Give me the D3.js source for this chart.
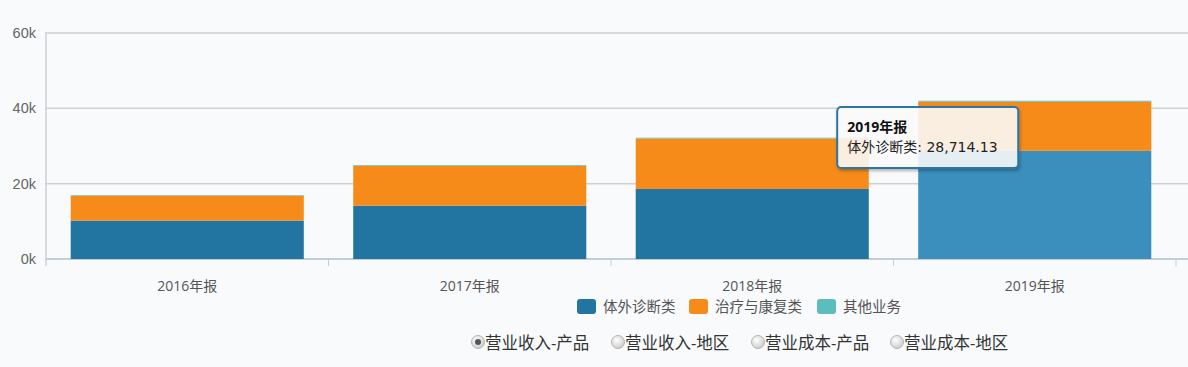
<!DOCTYPE html>
<html>
<head>
<meta charset="utf-8">
<script src="https://cdn.jsdelivr.net/npm/d3@7"></script>
<style>
  html, body { margin: 0; padding: 0; background: #f8fafc; }
  svg { display: block; font-family: "Open Sans", "Noto Sans CJK SC", sans-serif; }
</style>
</head>
<body>
<svg id="chart"></svg>
<script>
const width = 1188;
const height = 367;

// data
const categories = ["2016年报", "2017年报", "2018年报", "2019年报"];
const seriesNames = ["体外诊断类", "治疗与康复类", "其他业务"];
const ivd = [10200, 14150, 18600, 28714.13];
const therapy = [6600, 10550, 13400, 13050];
const other = [150, 200, 200, 250];
const yTicks = [0, 20000, 40000, 60000];
const radioLabels = ["营业收入-产品", "营业收入-地区", "营业成本-产品", "营业成本-地区"];

const colors = ["#2275a1", "#f68b1a", "#5cbdbd"];
const hoverBlue = "#3b8fbd";

const svg = d3.select("#chart").attr("width", width).attr("height", height);

const x = d3.scaleBand()
    .domain(categories)
    .range([46, 1176])
    .paddingInner(0.175)
    .paddingOuter(0.0875);

const y = d3.scaleLinear()
    .domain([0, 60000])
    .range([259, 33]);

// gridlines
svg.append("g")
    .selectAll("line")
    .data(yTicks)
    .enter()
    .append("line")
    .attr("x1", 45)
    .attr("x2", width)
    .attr("y1", d => y(d))
    .attr("y2", d => y(d))
    .attr("stroke", d => d === 0 ? "#c3ccd9" : "#cdd1d7")
    .attr("stroke-width", d => d === 0 ? 2 : 1.5);

// y axis line
svg.append("line")
    .attr("x1", 46).attr("x2", 46)
    .attr("y1", y(60000)).attr("y2", 266)
    .attr("stroke", "#cdd1d7")
    .attr("stroke-width", 1.5);

// y labels
const yAxis = d3.axisLeft(y).tickValues(yTicks).tickFormat(d => (d / 1000) + "k").tickSize(0).tickPadding(10);
const gy = svg.append("g").attr("transform", "translate(46,0)").call(yAxis);
gy.select(".domain").remove();
gy.selectAll("text").attr("fill", "#666").style("font-size", "14.5px");

// x axis ticks at band edges
const edges = categories.map(c => x(c) - x.step() * x.paddingInner() / 2);
edges.push(x(categories[3]) + x.bandwidth() + x.step() * x.paddingInner() / 2);
svg.append("g")
    .selectAll("line")
    .data(edges.slice(1))
    .enter()
    .append("line")
    .attr("x1", d => d).attr("x2", d => d)
    .attr("y1", 259).attr("y2", 266)
    .attr("stroke", "#c3ccd9")
    .attr("stroke-width", 1);

// x labels
svg.append("g")
    .selectAll("text")
    .data(categories)
    .enter()
    .append("text")
    .attr("x", d => x(d) + x.bandwidth() / 2)
    .attr("y", 291)
    .attr("text-anchor", "middle")
    .attr("fill", "#555")
    .style("font-size", "14px")
    .text(d => d);

// stacked bars
const rows = categories.map((c, i) => ({ cat: c, s0: ivd[i], s1: therapy[i], s2: other[i] }));
const stacked = d3.stack().keys(["s0", "s1", "s2"])(rows);

svg.append("g")
    .selectAll("g")
    .data(stacked)
    .enter()
    .append("g")
    .attr("fill", (d, i) => colors[i])
    .selectAll("rect")
    .data(d => d)
    .enter()
    .append("rect")
    .attr("x", d => x(d.data.cat))
    .attr("width", x.bandwidth())
    .attr("y", d => y(d[1]))
    .attr("height", d => y(d[0]) - y(d[1]))
    .attr("fill", (d, i, nodes) => {
        // hovered 2019 IVD bar is lighter
        const key = d3.select(nodes[i].parentNode).datum().key;
        return (key === "s0" && d.data.cat === "2019年报") ? hoverBlue : null;
    });

// legend
const legendX = [577, 689, 817];
const legend = svg.append("g")
    .selectAll("g")
    .data(seriesNames)
    .enter()
    .append("g")
    .attr("transform", (d, i) => `translate(${legendX[i]},299)`);
legend.append("rect")
    .attr("width", 19).attr("height", 15)
    .attr("rx", 3)
    .attr("fill", (d, i) => colors[i]);
legend.append("text")
    .attr("x", 26).attr("y", 12.5)
    .attr("fill", "#555")
    .style("font-size", "14.5px")
    .text(d => d);

// radio buttons
const defs = svg.append("defs");
const grad = defs.append("radialGradient").attr("id", "radioGrad").attr("cx", "40%").attr("cy", "35%").attr("r", "70%");
grad.append("stop").attr("offset", "0%").attr("stop-color", "#ffffff");
grad.append("stop").attr("offset", "100%").attr("stop-color", "#c9c9c9");
const shadow = defs.append("filter").attr("id", "tipShadow").attr("x", "-10%").attr("y", "-10%").attr("width", "130%").attr("height", "140%");
shadow.append("feDropShadow").attr("dx", 1).attr("dy", 2).attr("stdDeviation", 1.5).attr("flood-color", "#000").attr("flood-opacity", 0.3);

const radioX = [478, 618, 758, 897];
const radio = svg.append("g")
    .selectAll("g")
    .data(radioLabels)
    .enter()
    .append("g")
    .attr("transform", (d, i) => `translate(${radioX[i]},342)`);
radio.append("circle")
    .attr("r", 6.5)
    .attr("fill", "url(#radioGrad)")
    .attr("stroke", "#b5b5b5")
    .attr("stroke-width", 1);
radio.filter((d, i) => i === 0).append("circle")
    .attr("r", 3)
    .attr("fill", "#555");
radio.append("text")
    .attr("x", 7).attr("y", 7)
    .attr("fill", "#333")
    .style("font-size", "16.5px")
    .text(d => d);

// tooltip for hovered 2019 bar
const tipX = x("2019年报") - 81;
const tip = svg.append("g").attr("transform", `translate(${tipX},107)`);
tip.append("rect")
    .attr("width", 181).attr("height", 61)
    .attr("rx", 4)
    .attr("fill", "rgba(255,255,255,0.85)")
    .attr("stroke", "#2e77a5")
    .attr("stroke-width", 2)
    .attr("filter", "url(#tipShadow)");
tip.append("text")
    .attr("x", 10).attr("y", 25)
    .attr("fill", "#111")
    .style("font-size", "14px")
    .style("font-weight", "bold")
    .text(categories[3]);
tip.append("text")
    .attr("x", 10).attr("y", 45)
    .attr("fill", "#222")
    .style("font-size", "14px")
    .style("font-family", "'DejaVu Sans', 'Noto Sans CJK SC', sans-serif")
    .text(seriesNames[0] + ": " + d3.format(",.2f")(ivd[3]));
</script>
</body>
</html>
